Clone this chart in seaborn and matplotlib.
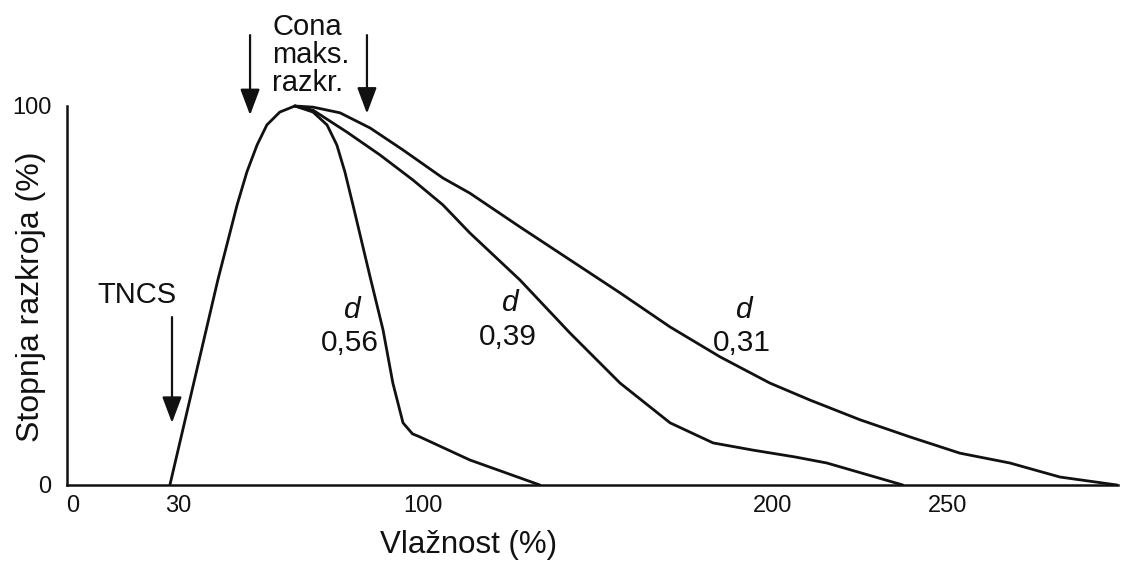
import matplotlib
matplotlib.use('Agg')
import matplotlib.pyplot as plt
import seaborn as sns
import pandas as pd

# values (x = moisture %, y = degree of decay %)
rise_x = [27.7, 41.4, 46.9, 49.7, 52.6, 55.4, 59.1, 63.4]
rise_y = [0, 54.1, 73.9, 82.6, 89.7, 95.0, 98.4, 100]

d056_x = [63.4, 68.6, 72.6, 75.4, 77.7, 80.0, 84.9, 88.6, 91.4, 94.3, 97.0, 99.1, 113.4, 133.4]
d056_y = [100, 98.4, 95.0, 89.7, 82.6, 73.9, 54.9, 40.9, 26.9, 16.4, 13.5, 12.7, 6.6, 0]

d039_x = [63.4, 68.6, 78.3, 87.7, 97.1, 105.7, 113.4, 127.7, 142.0, 156.3, 170.6, 182.9,
          194.3, 206.3, 215.4, 237.1]
d039_y = [100, 98.9, 93.1, 87.1, 80.5, 73.9, 66.5, 54.1, 40.1, 26.9, 16.4, 11.1,
          9.2, 7.4, 5.8, 0]

d031_x = [63.4, 68.6, 76.3, 84.9, 94.3, 105.7, 113.4, 127.7, 142.0, 156.3, 170.6, 184.9,
          199.1, 210.6, 224.9, 239.1, 253.4, 267.7, 282.0, 298.3]
d031_y = [100, 99.7, 98.2, 94.2, 88.4, 81.0, 77.0, 68.1, 59.4, 50.7, 41.7, 33.8,
          26.9, 22.4, 17.2, 12.7, 8.4, 5.8, 2.1, 0]

x_ticks = [0, 30, 100, 200, 250]
x_labels = ['0', '30', '100', '200', '250']
y_ticks = [0, 100]
y_labels = ['0', '100']

# d labels: (text, x, y)
d_labels = [('0,56', 79.1, 37.5), ('0,39', 124.3, 39.1), ('0,31', 191.1, 37.5)]

sns.set_theme(style='white')
plt.rcParams['font.family'] = ['Liberation Sans', 'DejaVu Sans']

fig = plt.figure(figsize=(11.24, 5.65), dpi=100)
ax = fig.add_axes([0.0596, 0.1416, 0.9395, 0.8385])

ink = '#111111'
curves = [(rise_x, rise_y), (d056_x, d056_y), (d039_x, d039_y), (d031_x, d031_y)]
for cx, cy in curves:
    df = pd.DataFrame({'x': cx, 'y': cy})
    sns.lineplot(data=df, x='x', y='y', sort=False, color=ink, linewidth=2.0, ax=ax)

ax.set_xlim(-1.7, 300)
ax.set_ylim(0, 125)

for s in ['top', 'right']:
    ax.spines[s].set_visible(False)
ax.spines['left'].set_bounds(0, 100)
ax.spines['bottom'].set_bounds(-1.7, 298.5)
for s in ['left', 'bottom']:
    ax.spines[s].set_color(ink)
    ax.spines[s].set_linewidth(1.8)

ax.set_xticks(x_ticks)
ax.set_xticklabels(x_labels)
ax.set_yticks(y_ticks)
ax.set_yticklabels(y_labels)
ax.tick_params(axis='x', length=0, pad=7, labelsize=17, colors=ink)
ax.tick_params(axis='y', length=0, pad=11, labelsize=17, colors=ink)

ax.set_xlabel('Vlažnost (%)', fontsize=22.5, color=ink)
ax.set_ylabel('Stopnja razkroja (%)', fontsize=23, color=ink)
ax.xaxis.set_label_coords(0.38, -0.095)
ax.yaxis.set_label_coords(-0.02, 0.397)

for txt, lx, ly in d_labels:
    ax.text(lx + 0.6, ly + 8.8, 'd', fontsize=21.5, style='italic', ha='center', va='center', color=ink)
    ax.text(lx, ly, txt, fontsize=21.5, ha='center', va='center', color=ink)

arrow = dict(arrowstyle='-|>, head_length=0.8, head_width=0.3', color=ink, lw=1.6,
             shrinkA=0, shrinkB=0, mutation_scale=20)

ax.text(18.3, 50.1, 'TNCS', fontsize=21, ha='center', va='center', color=ink)
ax.annotate('', xy=(28.3, 16.4), xytext=(28.3, 44.3), arrowprops=arrow)

ax.text(56.9, 113.5, 'Cona\nmaks.\nrazkr.', fontsize=21, ha='left', va='center',
        linespacing=1.0, color=ink)
ax.annotate('', xy=(50.6, 97.6), xytext=(50.6, 118.7), arrowprops=arrow)
ax.annotate('', xy=(84.0, 98.0), xytext=(84.0, 118.7), arrowprops=arrow)

fig.savefig('out.png', dpi=100, facecolor='white')
